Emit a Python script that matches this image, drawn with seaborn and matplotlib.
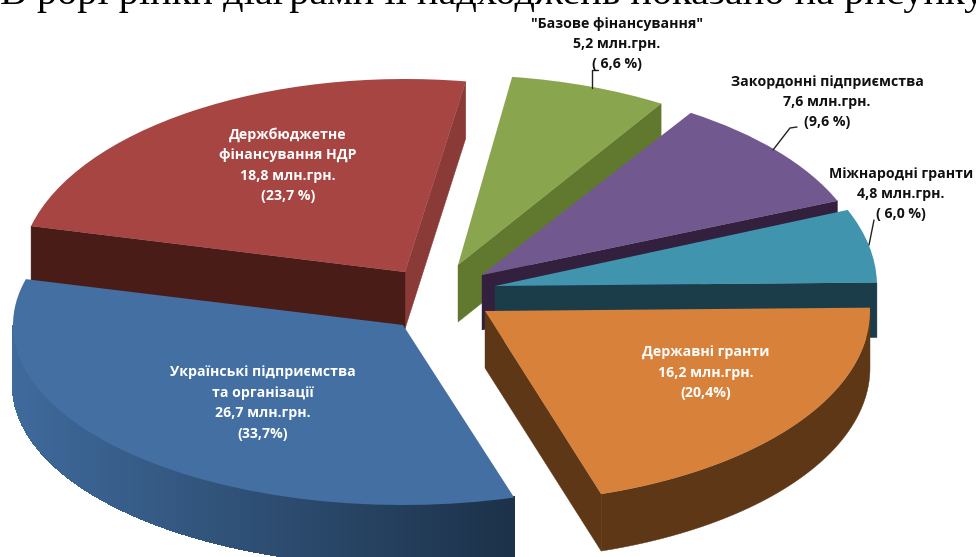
import numpy as np
import matplotlib
matplotlib.use("Agg")
import matplotlib.pyplot as plt
import matplotlib.colors as mc
from matplotlib.transforms import Affine2D
import seaborn as sns

# ---- data (clockwise from the 3 o'clock position)
categories = ["Державні гранти", "Українські підприємства та організації",
              "Держбюджетне фінансування НДР", "\"Базове фінансування\"",
              "Закордонні підприємства", "Міжнародні гранти"]
shares = [20.4, 33.7, 23.7, 6.6, 9.6, 6.0]
labels = ["Державні гранти\n16,2 млн.грн.\n(20,4%)",
          "Українські підприємства\nта організації\n26,7 млн.грн.\n(33,7%)",
          "Держбюджетне\nфінансування НДР\n18,8 млн.грн.\n(23,7 %)",
          "\"Базове фінансування\"\n5,2 млн.грн.\n( 6,6 %)",
          "Закордонні підприємства\n7,6 млн.грн.\n(9,6 %)",
          "Міжнародні гранти\n4,8 млн.грн.\n( 6,0 %)"]
heading = "В рорі рінки діаграми її надходжень показано на рисунку"

# ---- styling
top_colors = ["#D8813A", "#446FA3", "#A64542", "#89A54E", "#71588F", "#4094AE"]
arc_left = ["#5E3716", "#3F6A9C", "#4A1C18", "#60792F", "#33203F", "#1B3D4A"]
arc_right = ["#5E3716", "#1C3148", "#4A1C18", "#60792F", "#33203F", "#1B3D4A"]
cut_low = ["#5E3716", "#1C3148", "#8A3A37", "#60792F", "#33203F", "#1B3D4A"]
cut_high = ["#5E3716", "#1C3148", "#4A1C18", "#60792F", "#33203F", "#1B3D4A"]
apex = [(485, 311), (403, 325), (405, 272), (458, 265), (482, 275), (495, 286)]
rx = [385, 390, 385, 385, 385, 382]
ry = [192, 180, 193, 190, 193, 198]
rot = [1, 0, 1, 2, 1, 1]
depth = [57, 60, 57, 57, 55, 55]
layer = [6, 2, 1, 3, 4, 5]
label_xy = [(706, 373), (263, 403), (288, 165), (617, 44), (827, 102), (901, 194)]
label_col = ["white", "white", "white", "#111111", "#111111", "#111111"]
leaders = [None, None, None,
           ([592, 592, 598], [88, 70, 70]),
           ([773, 790, 797], [150, 128, 127]),
           ([869, 874], [245, 220])]

sns.set_theme(style="white")
plt.rcParams["font.family"] = ["Open Sans", "DejaVu Sans"]
palette = sns.color_palette(top_colors)

fig = plt.figure(figsize=(9.76, 5.57), dpi=100)
ax = fig.add_axes([0, 0, 1, 1])
wedges, _ = ax.pie(shares, colors=palette, startangle=0, counterclock=False)
ax.set_aspect("auto")
ax.set_xlim(0, 976)
ax.set_ylim(557, 0)
ax.axis("off")


def mix(c1, c2, t):
    a, b = np.array(mc.to_rgb(c1)), np.array(mc.to_rgb(c2))
    return tuple(a + (b - a) * t)


for i, w in enumerate(wedges):
    cx, cy = apex[i]
    a, b, d = rx[i], ry[i], depth[i]
    z = layer[i] * 2
    w.set_transform(Affine2D().rotate_deg(rot[i]).scale(a, -b).translate(cx, cy) + ax.transData)
    w.set_zorder(z + 1)
    w.set_edgecolor("none")

    th = np.radians(np.linspace(w.theta1, w.theta2, 90) + rot[i])
    px = cx + a * np.cos(th)
    py = cy - b * np.sin(th)
    # the walls: outline walked anticlockwise, only faces turned to the viewer
    if px[0] > cx:
        ax.fill([cx, px[0], px[0], cx], [cy, py[0], py[0] + d, cy + d],
                color=cut_low[i], lw=0.3, zorder=z)
    if cx > px[-1]:
        ax.fill([px[-1], cx, cx, px[-1]], [py[-1], cy, cy + d, py[-1] + d],
                color=cut_high[i], lw=0.3, zorder=z)
    xmin, xmax = px.min(), px.max()
    vis = np.where(np.diff(px) > 0)[0]
    if len(vis):
        if arc_left[i] == arc_right[i]:
            s = np.r_[vis, vis[-1] + 1]
            ax.fill(np.r_[px[s], px[s][::-1]], np.r_[py[s], (py[s] + d)[::-1]],
                    color=arc_left[i], lw=0.3, zorder=z)
        else:
            for k in vis:
                t = (px[k] - xmin) / (xmax - xmin)
                col = mix(arc_left[i], arc_right[i], t)
                ax.fill([px[k], px[k + 1], px[k + 1], px[k]],
                        [py[k], py[k + 1], py[k + 1] + d, py[k] + d],
                        color=col, lw=1.0, antialiased=False, zorder=z)

    ax.text(*label_xy[i], labels[i], ha="center", va="center", color=label_col[i],
            fontsize=10.2, fontweight="bold", linespacing=1.58, zorder=20)
    if leaders[i]:
        ax.plot(leaders[i][0], leaders[i][1], color="#222222", lw=1, zorder=19)

ax.text(0, 4, heading, family="Liberation Serif", fontsize=29, color="black",
        ha="left", va="baseline", zorder=20)

fig.savefig("out.png", dpi=100)
